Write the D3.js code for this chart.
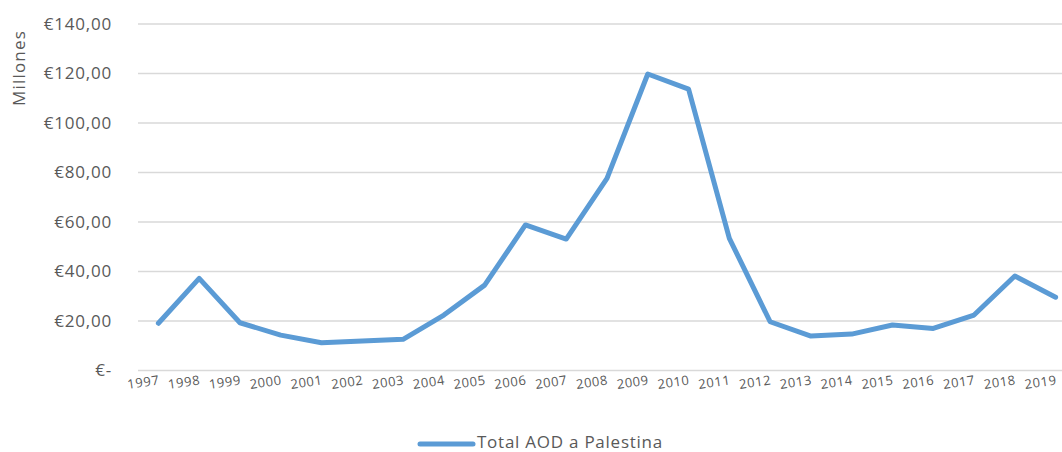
<!DOCTYPE html>
<html>
<head>
<meta charset="utf-8">
<script src="https://cdn.jsdelivr.net/npm/d3@7"></script>
<style>
  html, body { margin: 0; padding: 0; background: #fff; }
  svg { display: block; font-family: "Open Sans", "Liberation Sans", sans-serif; }
</style>
</head>
<body>
<svg id="chart" width="1062" height="452"></svg>
<script>
// Ayuda Oficial al Desarrollo a Palestina, en millones de euros
const years = ["1997","1998","1999","2000","2001","2002","2003","2004","2005","2006","2007","2008",
               "2009","2010","2011","2012","2013","2014","2015","2016","2017","2018","2019"];
const values = [19.1, 37.2, 19.3, 14.3, 11.2, 11.9, 12.6, 22.4, 34.5, 58.8, 53.1, 77.6,
                119.8, 113.7, 53.4, 19.7, 13.9, 14.7, 18.4, 17.0, 22.4, 38.2, 29.6];
const yTicks = [0, 20, 40, 60, 80, 100, 120, 140];
const seriesName = "Total AOD a Palestina";
const axisTitle = "Millones";

const svg = d3.select("#chart");
const plotLeft = 138, plotRight = 1076, plotTop = 24, plotBottom = 370.5;
const textColor = "#595959";
const fontStack = "\"Open Sans\", \"Liberation Sans\", sans-serif";

const x = d3.scalePoint().domain(years).range([plotLeft, plotRight]).padding(0.5);
const y = d3.scaleLinear().domain([0, 140]).range([plotBottom, plotTop]);

const fmt = v => v === 0 ? "€-" : "€" + d3.format(".2f")(v).replace(".", ",");

// gridlines
svg.append("g")
  .selectAll("line")
  .data(yTicks)
  .join("line")
  .attr("x1", plotLeft).attr("x2", plotRight)
  .attr("y1", d => y(d)).attr("y2", d => y(d))
  .attr("stroke", "#d9d9d9").attr("stroke-width", 1.3);

// y axis labels
const yAxis = svg.append("g")
  .attr("transform", `translate(${plotLeft - 26},0)`)
  .call(d3.axisLeft(y).tickValues(yTicks).tickFormat(fmt).tickSize(0).tickPadding(0));
yAxis.select(".domain").remove();
yAxis.selectAll("text")
  .attr("fill", textColor)
  .style("font-size", "17px")
  .style("letter-spacing", "0.8px")
  .style("font-family", fontStack);

// y axis title
svg.append("text")
  .attr("transform", "translate(25,68) rotate(-90)")
  .attr("text-anchor", "middle")
  .attr("fill", textColor)
  .style("font-size", "17px")
  .style("letter-spacing", "1.2px")
  .text(axisTitle);

// x axis labels, slightly tilted
const xAxis = svg.append("g")
  .attr("transform", `translate(0,${plotBottom})`)
  .call(d3.axisBottom(x).tickSize(0).tickPadding(0));
xAxis.select(".domain").remove();
xAxis.selectAll("text")
  .attr("fill", textColor)
  .style("font-size", "13px")
  .style("letter-spacing", "0.6px")
  .style("font-family", fontStack)
  .attr("text-anchor", "end")
  .attr("dy", "0")
  .attr("y", 0)
  .attr("transform", "translate(1,14) rotate(-8)");

// series line
const line = d3.line()
  .x((d, i) => x(years[i]))
  .y(d => y(d));

svg.append("path")
  .datum(values)
  .attr("d", line)
  .attr("fill", "none")
  .attr("stroke", "#5b9bd5")
  .attr("stroke-width", 5)
  .attr("stroke-linejoin", "round")
  .attr("stroke-linecap", "round");

// legend
const lg = svg.append("g").attr("transform", "translate(0,444)");
lg.append("line")
  .attr("x1", 420).attr("x2", 473)
  .attr("y1", 0).attr("y2", 0)
  .attr("stroke", "#5b9bd5").attr("stroke-width", 5)
  .attr("stroke-linecap", "round");
lg.append("text")
  .attr("x", 477).attr("y", 3.5)
  .attr("fill", textColor)
  .style("font-size", "17px")
  .style("letter-spacing", "0.75px")
  .text(seriesName);
</script>
</body>
</html>
